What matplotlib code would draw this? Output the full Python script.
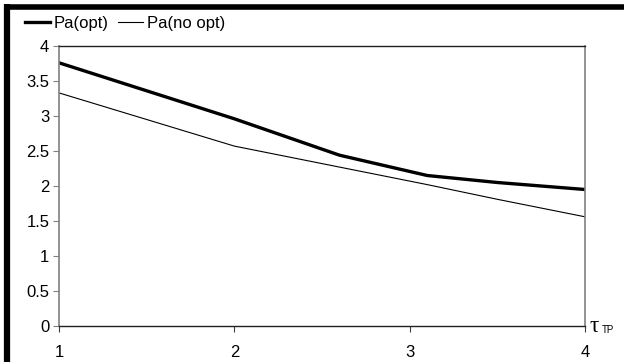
import matplotlib
matplotlib.use("Agg")
import matplotlib.pyplot as plt
from matplotlib.lines import Line2D

plt.rcParams['font.family'] = ['Liberation Sans', 'DejaVu Sans']

x_vals = [1, 1.5, 2, 2.6, 3.1, 3.5, 4]
pa_opt = [3.76, 3.36, 2.96, 2.44, 2.15, 2.05, 1.95]
pa_no_opt = [3.33, 2.95, 2.57, 2.27, 2.02, 1.81, 1.56]
y_ticks = [0, 0.5, 1, 1.5, 2, 2.5, 3, 3.5, 4]
y_tick_labels = ['0', '0.5', '1', '1.5', '2', '2.5', '3', '3.5', '4']
x_ticks = [1, 2, 3, 4]
x_tick_labels = ['1', '2', '3', '4']

fig = plt.figure(figsize=(6.24, 3.62), dpi=100)
ax = fig.add_axes([59/624, 36/362, (585-59)/624, (326-46)/362])

l1, = ax.plot(x_vals, pa_opt, color='black', lw=2.4, solid_joinstyle='round')
l2, = ax.plot(x_vals, pa_no_opt, color='black', lw=0.8)

ax.set_xlim(1, 4)
ax.set_ylim(0, 4)
ax.set_yticks(y_ticks)
ax.set_yticklabels(y_tick_labels)
ax.set_xticks(x_ticks)
ax.set_xticklabels(x_tick_labels)
ax.tick_params(axis='y', direction='out', length=4, color='#808080', labelsize=12, pad=3)
ax.tick_params(axis='x', direction='out', length=4, color='#404040', labelsize=12, pad=10)

for side in ['left', 'right']:
    ax.spines[side].set_color('#808080')
    ax.spines[side].set_linewidth(1.2)
ax.spines['top'].set_color('#202020')
ax.spines['top'].set_linewidth(1.0)
ax.spines['bottom'].set_color('#202020')
ax.spines['bottom'].set_linewidth(1.0)

# axis name: tau with small "TP" subscript
ax.annotate('τ', xy=(1, 0), xycoords='axes fraction', xytext=(3, 0),
            textcoords='offset points', fontsize=17, family='Liberation Serif',
            ha='left', va='center')
ax.annotate('TP', xy=(1, 0), xycoords='axes fraction', xytext=(12, -3),
            textcoords='offset points', fontsize=7, ha='left', va='center')

leg = fig.legend([l1, l2], ['Pa(opt)', 'Pa(no opt)'], loc='upper left',
                 bbox_to_anchor=(25/624, 1 - 16/362), ncol=2, frameon=False,
                 fontsize=12, handlelength=1.5, handletextpad=0.2, columnspacing=0.6,
                 borderaxespad=0, borderpad=0)

# black frame border (left and top)
fig.add_artist(Line2D([7/624, 7/624], [0, 1 - 4/362], color='black', lw=4.5,
                      transform=fig.transFigure, solid_capstyle='butt'))
fig.add_artist(Line2D([4/624, 1], [1 - 6.5/362, 1 - 6.5/362], color='black', lw=4,
                      transform=fig.transFigure, solid_capstyle='butt'))

fig.savefig('out.png', dpi=100)
